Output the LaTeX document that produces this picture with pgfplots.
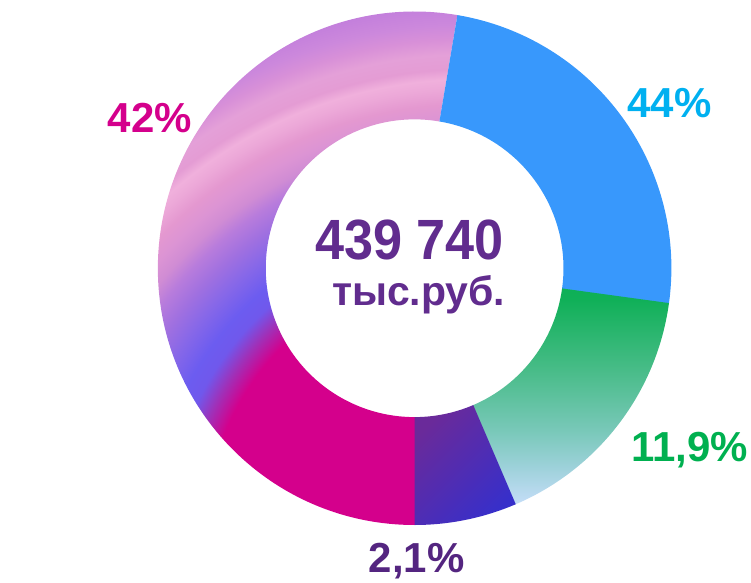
\documentclass[border=0pt]{standalone}
\usepackage{pgfplots}
\pgfplotsset{compat=1.18}
\usepackage{fontspec}
\setmainfont{Liberation Sans}

% segment shares (labels) and drawn angular spans (degrees, clockwise from 80.4)
% 44%   -> 88.4 ; 11,9% -> 59 ; 2,1% -> 23 ; 42% -> 189.6

\definecolor{blueseg}{HTML}{3898FC}
\definecolor{magseg}{HTML}{D4008C}
\definecolor{txtcenter}{HTML}{612C8E}
\definecolor{lblblue}{HTML}{00B0F0}
\definecolor{lblmag}{HTML}{D4008C}
\definecolor{lblgreen}{HTML}{00B050}
\definecolor{lblpurple}{HTML}{542580}
\definecolor{pA}{HTML}{6A2A9A}
\definecolor{pB}{HTML}{372FCA}
% big segment radial colours
\definecolor{s1}{HTML}{A030B8}
\definecolor{s2}{HTML}{7058EC}
\definecolor{s3}{HTML}{6C5CF0}
\definecolor{s4}{HTML}{8868E8}
\definecolor{s5}{HTML}{A070E0}
\definecolor{s6}{HTML}{B87CDC}
\definecolor{s7}{HTML}{D08CD4}
\definecolor{s8}{HTML}{DC94D4}
\definecolor{s9}{HTML}{E498D0}
\definecolor{s10}{HTML}{ECA8D8}
\definecolor{s11}{HTML}{F0B0DC}
\definecolor{s12}{HTML}{E49CD4}
\definecolor{s13}{HTML}{E4A0D8}
\definecolor{s14}{HTML}{D890D8}
\definecolor{s15}{HTML}{CC88DC}
\definecolor{s16}{HTML}{C07CDC}
% green gradient
\definecolor{g0}{HTML}{C8E0F8}
\definecolor{g1}{HTML}{C0DCF4}
\definecolor{g2}{HTML}{A0D2DC}
\definecolor{g3}{HTML}{78C8B8}
\definecolor{g4}{HTML}{48BC88}
\definecolor{g5}{HTML}{10B058}
\definecolor{g6}{HTML}{0CB055}

\pgfdeclareradialshading{bigshade}{\pgfpoint{0bp}{0bp}}{%
color(0bp)=(magseg); color(266bp)=(magseg); color(286bp)=(s1);
color(304bp)=(s2); color(320bp)=(s3); color(345bp)=(s4); color(365bp)=(s5);
color(385bp)=(s6); color(400bp)=(s7); color(415bp)=(s8); color(430bp)=(s9);
color(445bp)=(s10); color(455bp)=(s11); color(465bp)=(s12); color(480bp)=(s13);
color(495bp)=(s14); color(510bp)=(s15); color(535bp)=(s16)}

\pgfdeclareverticalshading{greenshade}{300bp}{%
color(0bp)=(g0); color(2.5bp)=(g0); color(12.5bp)=(g1); color(42.5bp)=(g2);
color(82.5bp)=(g3); color(142.5bp)=(g4); color(212.5bp)=(g5); color(230bp)=(g6)}

\newcommand{\sectorop}[4]{#1[#4] (axis cs:{257*cos(#2)},{257*sin(#2)})
  arc[start angle=#2, end angle=#3, radius=257bp]
  -- (axis cs:{149*cos(#3)},{149*sin(#3)})
  arc[start angle=#3, end angle=#2, radius=149bp] -- cycle;}

\begin{document}
\begin{tikzpicture}
\begin{axis}[hide axis, x=1bp, y=1bp, xmin=-415, xmax=336, ymin=-314.5, ymax=268.5,
  clip=false, disabledatascaling]
\path (axis cs:-415,-314.5) rectangle (axis cs:336,268.5);
% big: 42% (drawn first, slightly overlapping neighbours to avoid seams)
\begin{scope}
\sectorop{\clip}{-89.7}{-279.6}{}
\node[inner sep=0pt] at (axis cs:56,-265.5) {\pgfuseshading{bigshade}};
\end{scope}
% blue: 44%
\sectorop{\fill}{80.4}{-8}{blueseg}
% green: 11,9%
\begin{scope}
\sectorop{\clip}{-7.8}{-67}{}
\node[inner sep=0pt] at (axis cs:175,-129) {\pgfuseshading{greenshade}};
\end{scope}
% purple: 2,1%
\sectorop{\shade}{-66.8}{-90}{top color=pA, bottom color=pB, shading angle=45}
% labels
\node[anchor=base, text=txtcenter, font=\bfseries\fontsize{56.8bp}{60bp}\selectfont]
  at (axis cs:-5,8.5) {\scalebox{0.92}[1]{439 740}};
\node[anchor=base, text=txtcenter, font=\bfseries\fontsize{41bp}{44bp}\selectfont]
  at (axis cs:4,-37.5) {тыс.руб.};
\node[anchor=base, text=lblblue, font=\bfseries\fontsize{42bp}{46bp}\selectfont]
  at (axis cs:255,150.5) {44\%};
\node[anchor=base, text=lblmag, font=\bfseries\fontsize{42bp}{46bp}\selectfont]
  at (axis cs:-265,135.5) {42\%};
\node[anchor=base, text=lblgreen, font=\bfseries\fontsize{42bp}{46bp}\selectfont]
  at (axis cs:275,-193.5) {11,9\%};
\node[anchor=base, text=lblpurple, font=\bfseries\fontsize{42bp}{46bp}\selectfont]
  at (axis cs:2,-304.5) {2,1\%};
\end{axis}
\end{tikzpicture}
\end{document}
